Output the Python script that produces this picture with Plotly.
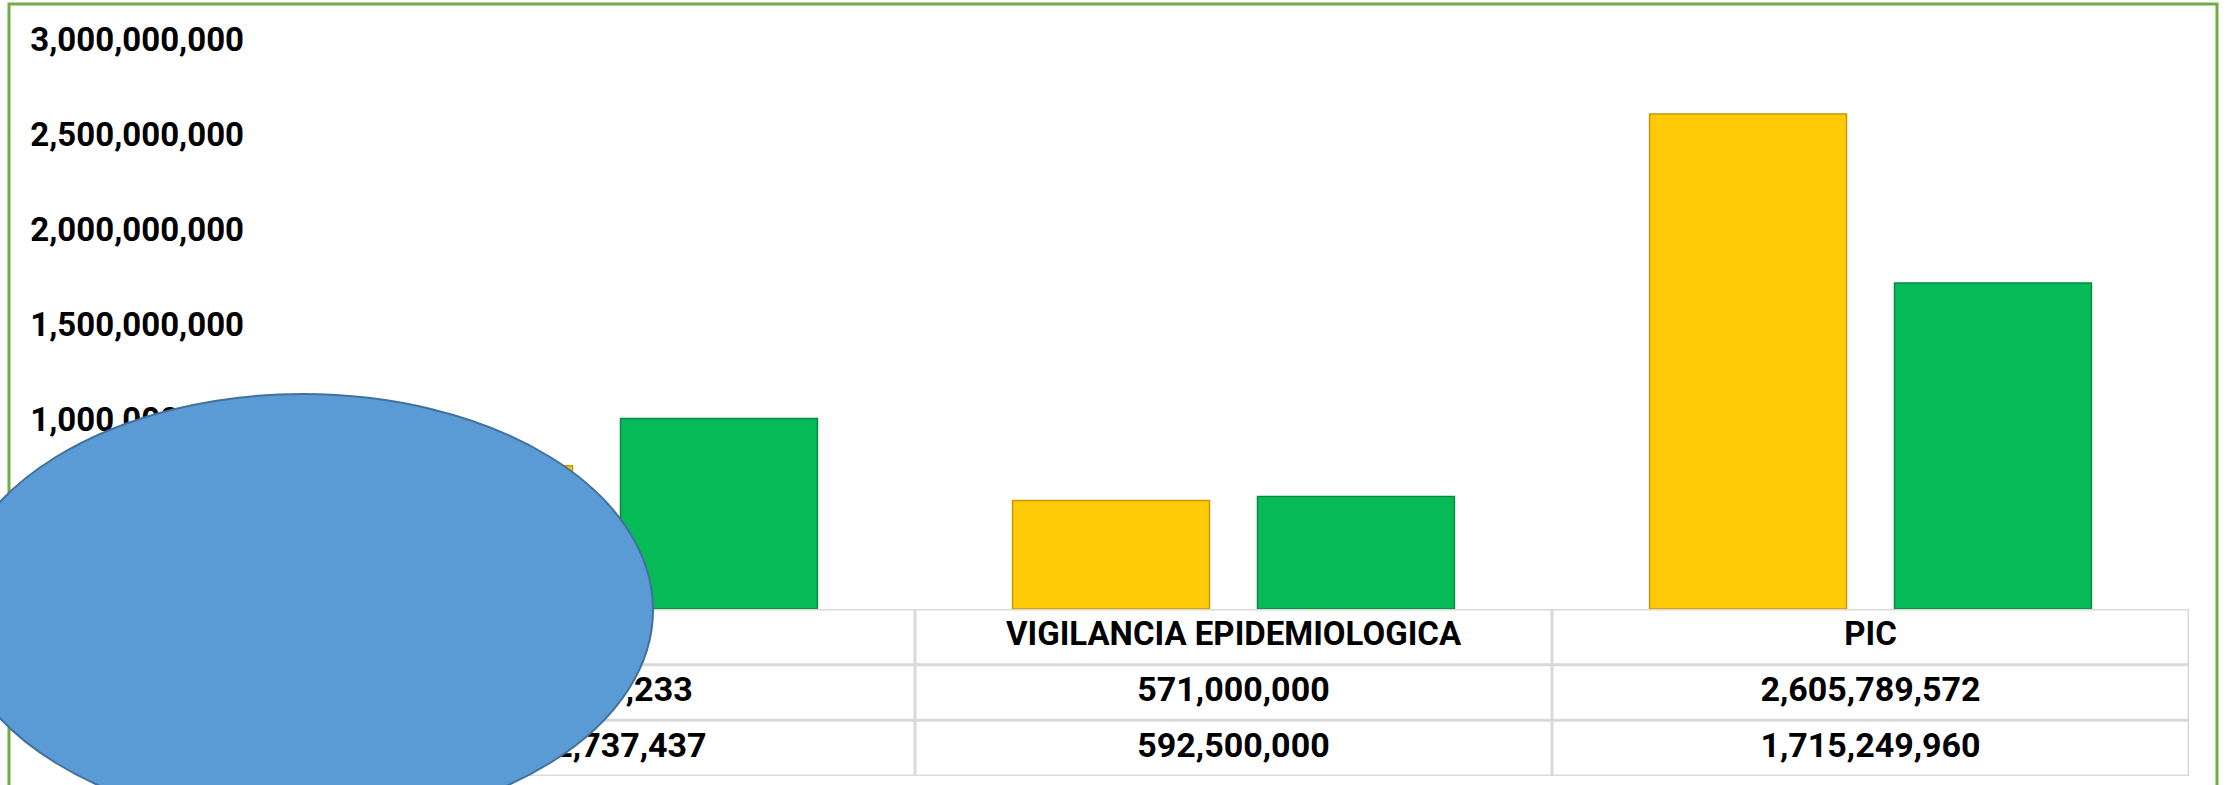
import plotly.graph_objects as go

# ---------------- data ----------------
categories = ["PAI", "VIGILANCIA EPIDEMIOLOGICA", "PIC"]
serie_1 = [753450233, 571000000, 2605789572]      # yellow
serie_2 = [1002737437, 592500000, 1715249960]     # green
y_ticks = [0, 500000000, 1000000000, 1500000000, 2000000000, 2500000000, 3000000000]
table_rows = [0, 1, 2, 3]

# ---------------- geometry (pixels) ----------------
W, H = 2228, 785
PL, PR, PT, PB = 278, 2189, 39, 776   # plot area (incl. data table)
SPLIT = 609                             # baseline / table top


def fx(p):
    return (p - PL) / (PR - PL)


def fy(p):
    return (PB - p) / (PB - PT)


FONT = "Roboto"
YELLOW = "#FFCA08"
GREEN = "#06BB57"

fig = go.Figure()
fig.add_bar(x=categories, y=serie_1, name="Serie 1", xaxis="x", yaxis="y",
            marker=dict(color=YELLOW, line=dict(color="#C79800", width=1.5)))
fig.add_bar(x=categories, y=serie_2, name="Serie 2", xaxis="x", yaxis="y",
            marker=dict(color=GREEN, line=dict(color="#048A41", width=1.5)))

tf = dict(family=FONT, size=34, color="black", weight="bold")
fig.add_scatter(x=categories, y=[0.5] * 3, text=categories, mode="text",
                xaxis="x", yaxis="y2", textfont=dict(family=FONT, size=33, color="black", weight="bold"),
                hoverinfo="skip")
fig.add_scatter(x=categories, y=[1.5] * 3, text=[f"{v:,}" for v in serie_1], mode="text",
                xaxis="x", yaxis="y2", textfont=tf, hoverinfo="skip")
fig.add_scatter(x=categories, y=[2.5] * 3, text=[f"{v:,}" for v in serie_2], mode="text",
                xaxis="x", yaxis="y2", textfont=tf, hoverinfo="skip")

shapes = []
grid = dict(color="#D9D9D9", width=3)
for r in table_rows:
    shapes.append(dict(type="line", xref="x", yref="y2", x0=-0.5, x1=2.5, y0=r, y1=r,
                       line=grid, layer="below"))
for c in [-0.5, 0.5, 1.5, 2.5]:
    shapes.append(dict(type="line", xref="x", yref="y2", x0=c, x1=c, y0=0, y1=3,
                       line=grid, layer="below"))

# outer green border
shapes.append(dict(type="rect", xref="paper", yref="paper",
                   x0=fx(9), x1=fx(2217), y0=fy(805), y1=fy(4),
                   line=dict(color="#70AD47", width=3), fillcolor="rgba(0,0,0,0)", layer="above"))
# blue ellipse covering left part
shapes.append(dict(type="circle", xref="paper", yref="paper",
                   x0=fx(-47), x1=fx(653), y0=fy(826), y1=fy(394),
                   line=dict(color="#41719C", width=2), fillcolor="#5B9BD5", layer="above"))

split_frac = (PB - SPLIT) / (PB - PT)

fig.update_layout(
    template="none",
    width=W, height=H,
    margin=dict(l=PL, r=W - PR, t=PT, b=H - PB, pad=0, autoexpand=False),
    paper_bgcolor="white", plot_bgcolor="white",
    showlegend=False,
    barmode="group", bargap=0.231, bargroupgap=0.196,
    shapes=shapes,
    xaxis=dict(domain=[0, 1], anchor="y", type="category", range=[-0.5, 2.5], automargin=False,
               showticklabels=False, showgrid=False, zeroline=False, showline=False, ticks=""),
    yaxis=dict(domain=[split_frac, 1], anchor="x", range=[0, 3000000000], automargin=False,
               tickvals=y_ticks, tickformat=",", ticks="", ticklabelstandoff=33,
               tickfont=dict(family=FONT, size=33, color="black", weight="bold"),
               showgrid=False, zeroline=False, showline=False),
    yaxis2=dict(domain=[0, split_frac], anchor="x", range=[3, 0], automargin=False,
                showticklabels=False, showgrid=False, zeroline=False, showline=False, ticks=""),
)

fig.write_html("out.html", config={"displayModeBar": False},
               post_script="document.body.style.margin='0';document.body.style.overflow='hidden';")
